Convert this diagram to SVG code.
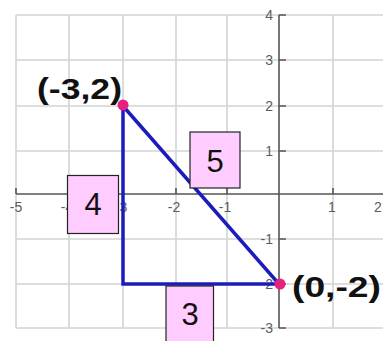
<svg xmlns="http://www.w3.org/2000/svg" width="383" height="341" viewBox="0 0 383 341">
<style>
.grid{stroke:#d4d4d4;stroke-width:1.6;fill:none}
.axis{stroke:#555;stroke-width:1.6;fill:none}
.tl{font-family:"Liberation Sans",Arial,sans-serif;font-size:14px;fill:#5c5c5c}
.side{fill:none;stroke:#1c1cbc;stroke-width:3.5;stroke-linejoin:miter}
.box{fill:#ffccff;stroke:#222;stroke-width:1.2}
.num{font-family:"Liberation Sans",Arial,sans-serif;font-size:31px;fill:#111;text-anchor:middle}
.pt{font-family:"Liberation Sans",Arial,sans-serif;font-size:29px;font-weight:bold;fill:#111}
.dot{fill:#e8207f}
</style>
<rect width="383" height="341" fill="#fff"/>
<g id="grid">
<path class="grid" d="M16 15V328M69 15V328M123 15V328M176 15V328M227 15V328M333 15V328M16 15H383M16 60H383M16 106H383M16 151H383M16 239H383M16 284H383M16 328H383"/>
</g>
<g id="axes">
<path class="axis" d="M16 194H383M279 15V328"/>
<path class="axis" d="M16 194V188M69 194V188M123 194V188M176 194V188M227 194V188M333 194V188M279 15H286M279 60H286M279 106H286M279 151H286M279 239H286M279 284H286M279 328H286"/>
<g class="tl" text-anchor="middle">
<text x="16" y="212">-5</text>
<text x="67" y="212">-4</text>
<text x="121" y="212">-3</text>
<text x="174" y="212">-2</text>
<text x="225" y="212">-1</text>
<text x="332" y="212">1</text>
<text x="378" y="212">2</text>
</g>
<g class="tl" text-anchor="end">
<text x="273" y="20">4</text>
<text x="273" y="65">3</text>
<text x="273" y="111">2</text>
<text x="273" y="156">1</text>
<text x="273" y="244">-1</text>
<text x="273" y="289">-2</text>
<text x="273" y="333">-3</text>
</g>
</g>
<g id="connectors">
<path class="side" d="M123 106V284H279Z"/>
</g>
<g id="label-5">
<rect class="box" x="190" y="132" width="50" height="56"/>
<text class="num" x="215" y="172">5</text>
</g>
<g id="label-4">
<rect class="box" x="67.5" y="175.5" width="51" height="58"/>
<text class="num" x="93" y="215">4</text>
</g>
<g id="label-3">
<rect class="box" x="166" y="286" width="47.5" height="60"/>
<text class="num" x="190" y="325">3</text>
</g>
<g id="point-a">
<circle class="dot" cx="123" cy="105" r="5.5"/>
<text class="pt" x="37" y="99" textLength="85" lengthAdjust="spacingAndGlyphs">(-3,2)</text>
</g>
<g id="point-b">
<circle class="dot" cx="280" cy="284" r="5.5"/>
<text class="pt" x="292" y="297" textLength="89" lengthAdjust="spacingAndGlyphs">(0,-2)</text>
</g>
</svg>
